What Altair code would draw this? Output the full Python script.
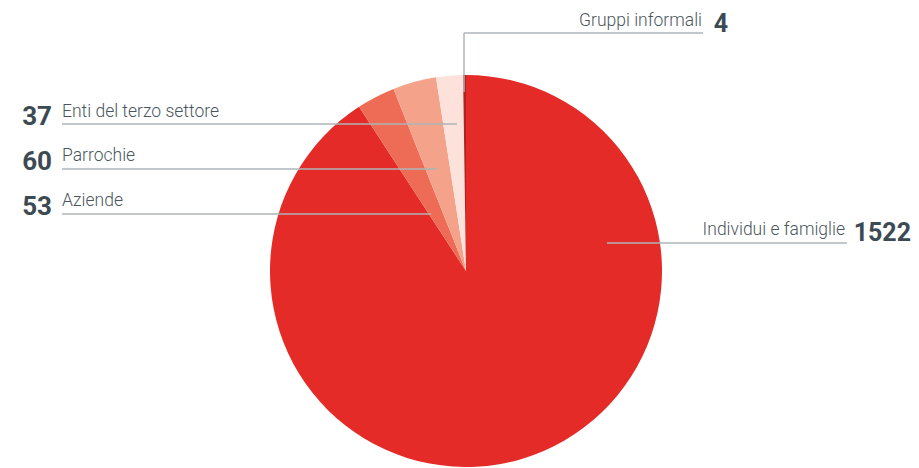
import altair as alt
import pandas as pd

categories = ["Individui e famiglie", "Aziende", "Parrochie", "Enti del terzo settore", "Gruppi informali"]
values = [1522, 53, 60, 37, 4]
colors = ["#e52b27", "#ee6b55", "#f4a28a", "#fce2da", "#b0231f"]

pie_df = pd.DataFrame({"cat": categories, "value": values, "order": list(range(len(categories)))})

# annotation layout (pixel positions in chart coords)
rules = pd.DataFrame([
    {"x": 54, "x2": 449, "y": 116, "y2": 116},
    {"x": 54, "x2": 429, "y": 161, "y2": 161},
    {"x": 54, "x2": 423, "y": 206, "y2": 206},
    {"x": 456, "x2": 695, "y": 25, "y2": 25},
    {"x": 456, "x2": 456, "y": 25, "y2": 84},
    {"x": 599, "x2": 839, "y": 235, "y2": 235},
])

labels_left = pd.DataFrame({
    "text": ["Enti del terzo settore", "Parrochie", "Aziende"],
    "x": [54, 54, 54], "y": [109, 153, 198]})
nums_left = pd.DataFrame({
    "text": ["37", "60", "53"],
    "x": [44, 44, 44], "y": [117, 162, 207]})
labels_right = pd.DataFrame({
    "text": ["Gruppi informali", "Individui e famiglie"],
    "x": [694, 837], "y": [18, 227]})
nums_right = pd.DataFrame({
    "text": ["4", "1522"],
    "x": [720, 903], "y": [24, 233]})

pie = alt.Chart(pie_df).mark_arc(outerRadius=196, strokeWidth=0).encode(
    theta=alt.Theta("value:Q", stack=True),
    color=alt.Color("cat:N", scale=alt.Scale(domain=categories, range=colors), legend=None),
    order=alt.Order("order:Q"),
    x=alt.value(458),
    y=alt.value(263),
)

rule = alt.Chart(rules).mark_rule(color="#aeb4b9", strokeWidth=1.5).encode(
    x=alt.X("x:Q", scale=None), x2="x2:Q",
    y=alt.Y("y:Q", scale=None), y2="y2:Q")

TXT = "#3c4a53"
LAB = "#4a565e"
lab_l = alt.Chart(labels_left).mark_text(align="left", baseline="alphabetic", font="Roboto",
                                         fontWeight=300, fontSize=17.5, color=LAB).encode(
    x=alt.X("x:Q", scale=None), y=alt.Y("y:Q", scale=None), text="text:N")
num_l = alt.Chart(nums_left).mark_text(align="right", baseline="alphabetic", font="Roboto",
                                       fontWeight="bold", fontSize=26, color=TXT).encode(
    x=alt.X("x:Q", scale=None), y=alt.Y("y:Q", scale=None), text="text:N")
lab_r = alt.Chart(labels_right).mark_text(align="right", baseline="alphabetic", font="Roboto",
                                          fontWeight=300, fontSize=17.5, color=LAB).encode(
    x=alt.X("x:Q", scale=None), y=alt.Y("y:Q", scale=None), text="text:N")
num_r = alt.Chart(nums_right).mark_text(align="right", baseline="alphabetic", font="Roboto",
                                        fontWeight="bold", fontSize=25, color=TXT).encode(
    x=alt.X("x:Q", scale=None), y=alt.Y("y:Q", scale=None), text="text:N")

chart = alt.layer(pie, rule, lab_l, num_l, lab_r, num_r).properties(
    width=903, height=460, autosize=alt.AutoSizeParams(type="none"), padding=0
).configure_view(stroke=None)

chart.save("out.html", embed_options={"renderer": "svg", "actions": False})
